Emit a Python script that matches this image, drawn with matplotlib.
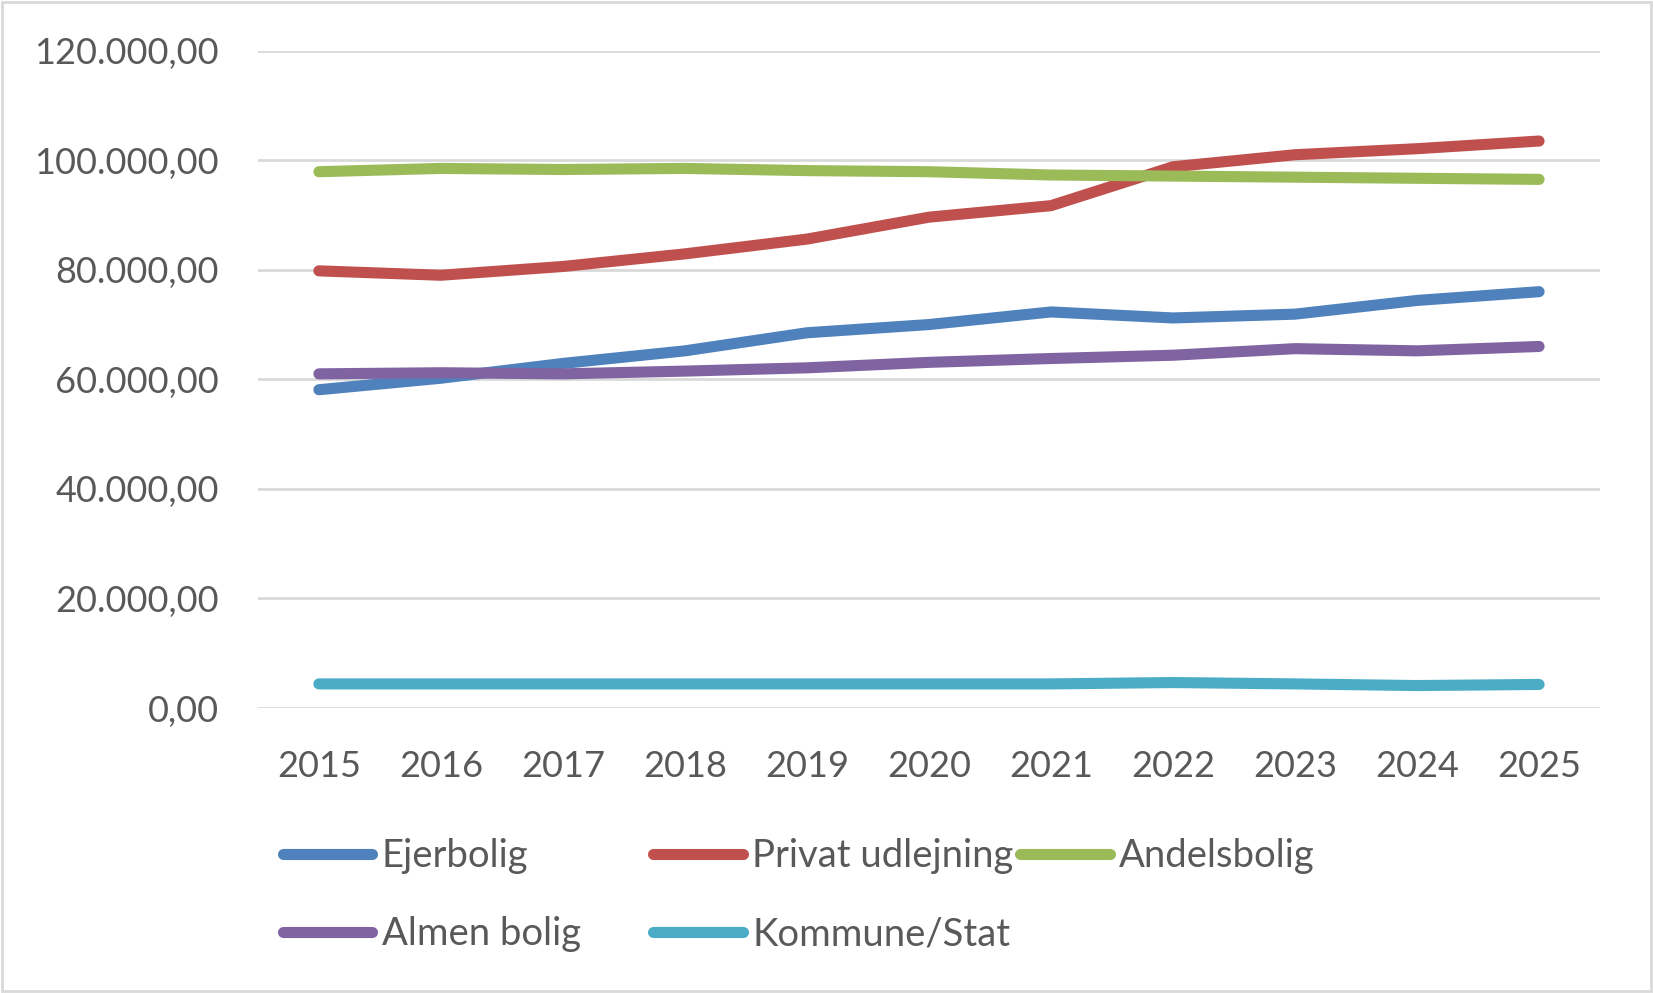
import matplotlib
matplotlib.use("Agg")
import matplotlib.pyplot as plt
from matplotlib.ticker import FuncFormatter, MultipleLocator
from matplotlib.patches import Rectangle

plt.rcParams["font.family"] = ["Lato", "DejaVu Sans"]

# data
years = [2015, 2016, 2017, 2018, 2019, 2020, 2021, 2022, 2023, 2024, 2025]
ejerbolig = [58100, 60200, 62900, 65200, 68500, 70000, 72300, 71200, 71900, 74400, 76000]
privat = [79800, 79000, 80600, 82900, 85600, 89600, 91700, 98800, 101000, 102100, 103500]
andel = [97900, 98500, 98300, 98500, 98100, 97900, 97300, 97100, 96900, 96700, 96500]
almen = [61000, 61200, 61000, 61500, 62100, 63100, 63800, 64400, 65600, 65200, 66000]
kommune = [4400, 4400, 4400, 4400, 4400, 4400, 4400, 4650, 4400, 4100, 4300]

names = ["Ejerbolig", "Privat udlejning", "Andelsbolig", "Almen bolig", "Kommune/Stat"]
colors = ["#4F81BD", "#C0504D", "#9BBB59", "#8064A2", "#4BACC6"]
series = [ejerbolig, privat, andel, almen, kommune]

txt = "#595959"
grid = "#D9D9D9"

fig = plt.figure(figsize=(16.53, 9.93), dpi=100)
ax = fig.add_axes([0.156, 0.287, 0.812, 0.662])

lines = []
for s, c, n in zip(series, colors, names):
    l, = ax.plot(years, s, color=c, lw=8, solid_capstyle="round",
                 solid_joinstyle="round", label=n, zorder=3)
    lines.append(l)

ax.set_xlim(2014.5, 2025.5)
ax.set_ylim(0, 120000)
ax.yaxis.set_major_locator(MultipleLocator(20000))
ax.set_xticks(years)
ax.yaxis.set_major_formatter(FuncFormatter(
    lambda v, p: f"{v:,.2f}".replace(",", "X").replace(".", ",").replace("X", ".")))
ax.grid(axis="y", color=grid, lw=2)
ax.set_axisbelow(True)
for sp in ax.spines.values():
    sp.set_visible(False)
ax.tick_params(length=0, labelsize=26, labelcolor=txt)
ax.tick_params(axis="y", pad=28)
ax.tick_params(axis="x", pad=30)

# legend, three columns of equal width like Excel
cols = [[0, 3], [1, 4], [2]]
xpos = [0.171, 0.395, 0.617]
for i, (idx, x) in enumerate(zip(cols, xpos)):
    leg = fig.legend([lines[k] for k in idx], [names[k] for k in idx],
                     loc="upper left", bbox_to_anchor=(x, 0.156),
                     frameon=False, fontsize=27.5, handlelength=2.35,
                     handletextpad=0.25, labelspacing=1.11,
                     borderaxespad=0, borderpad=0)
    for t in leg.get_texts():
        t.set_color(txt)

fig.patches.append(Rectangle((0.0015, 0.0025), 0.997, 0.995, transform=fig.transFigure,
                             fill=False, edgecolor=grid, lw=2))

fig.savefig("out.png", dpi=100)
